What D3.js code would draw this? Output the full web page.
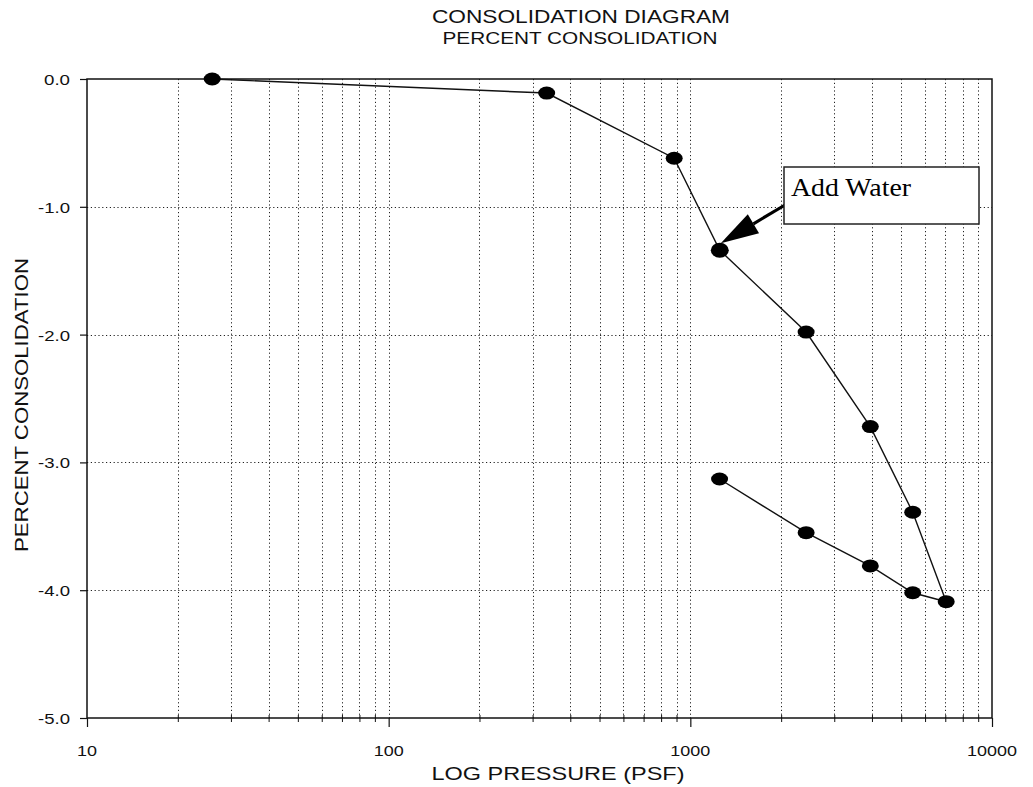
<!DOCTYPE html>
<html>
<head>
<meta charset="utf-8">
<script src="https://cdn.jsdelivr.net/npm/d3@7"></script>
<style>
  html, body { margin: 0; padding: 0; background: #fff; }
  svg { display: block; }
</style>
</head>
<body>
<svg id="chart" width="1033" height="787"></svg>
<script>
// Loading curve: pressure (psf) vs percent consolidation
const loadPressure = [26, 334, 884, 1252, 2420, 3950, 5460, 7050];
const loadConsolidation = [0.0, -0.11, -0.62, -1.34, -1.98, -2.72, -3.39, -4.09];

// Unloading (rebound) curve
const reboundPressure = [7050, 5460, 3950, 2420, 1250];
const reboundConsolidation = [-4.09, -4.02, -3.81, -3.55, -3.13];

// Axis tick values and labels
const xMajorTicks = [10, 100, 1000, 10000];
const xMajorLabels = ["10", "100", "1000", "10000"];
const yTicks = [0, -1, -2, -3, -4, -5];
const yTickLabels = ["0.0", "-1.0", "-2.0", "-3.0", "-4.0", "-5.0"];

// Point where water was added
const waterIndex = 3;
const waterNote = "Add Water";

const svg = d3.select("#chart");
const plotLeft = 87, plotRight = 992, plotTop = 79, plotBottom = 718;

const x = d3.scaleLog().domain([10, 10000]).range([plotLeft, plotRight]);
const y = d3.scaleLinear().domain([-5, 0]).range([plotBottom, plotTop]);

const ink = "#111";
const sans = "Liberation Sans, Arial, sans-serif";

// minor log ticks: 2..9 times each decade
const minorTicks = [];
[10, 100, 1000].forEach(d => { for (let k = 2; k <= 9; k++) minorTicks.push(d * k); });
const gridX = minorTicks.concat([100, 1000]);

// dotted grid
const grid = svg.append("g").attr("stroke", "#222").attr("stroke-width", 1)
  .attr("stroke-dasharray", "1.2,2.6").attr("fill", "none");
grid.selectAll("line.v").data(gridX).join("line")
  .attr("class", "v")
  .attr("x1", d => Math.round(x(d)) + 0.5).attr("x2", d => Math.round(x(d)) + 0.5)
  .attr("y1", plotTop).attr("y2", plotBottom);
grid.selectAll("line.h").data(yTicks.filter(v => v !== 0 && v !== -5)).join("line")
  .attr("class", "h")
  .attr("x1", plotLeft).attr("x2", plotRight)
  .attr("y1", d => Math.round(y(d)) + 0.5).attr("y2", d => Math.round(y(d)) + 0.5);

// axes built from d3 axis generators
const xAxis = d3.axisBottom(x).tickValues(xMajorTicks).tickFormat(() => "").tickSize(9).tickSizeOuter(0);
const gx = svg.append("g").attr("transform", `translate(0,${plotBottom})`).call(xAxis);
gx.select(".domain").remove();
gx.selectAll("line").attr("stroke", ink).attr("stroke-width", 1.2);

const xMinor = d3.axisBottom(x).tickValues(minorTicks).tickFormat(() => "").tickSize(4).tickSizeOuter(0);
const gxm = svg.append("g").attr("transform", `translate(0,${plotBottom})`).call(xMinor);
gxm.select(".domain").remove();
gxm.selectAll("line").attr("stroke", ink).attr("stroke-width", 1).attr("y1", -3);

const yAxis = d3.axisLeft(y).tickValues(yTicks).tickFormat(() => "").tickSize(7).tickSizeOuter(0);
const gy = svg.append("g").attr("transform", `translate(${plotLeft},0)`).call(yAxis);
gy.select(".domain").remove();
gy.selectAll("line").attr("stroke", ink).attr("stroke-width", 1.2);

// plot frame
svg.append("rect").attr("x", plotLeft).attr("y", plotTop)
  .attr("width", plotRight - plotLeft).attr("height", plotBottom - plotTop)
  .attr("fill", "none").attr("stroke", ink).attr("stroke-width", 1.5);

// tick labels
svg.append("g").selectAll("text").data(xMajorTicks).join("text")
  .attr("x", d => x(d)).attr("y", 756)
  .attr("text-anchor", "middle")
  .attr("font-family", sans).attr("font-size", 15).attr("fill", ink)
  .attr("textLength", (d, i) => xMajorLabels[i].length * 10)
  .attr("lengthAdjust", "spacingAndGlyphs")
  .text((d, i) => xMajorLabels[i]);

svg.append("g").selectAll("text").data(yTicks).join("text")
  .attr("x", 70).attr("y", d => y(d) + 6)
  .attr("text-anchor", "end")
  .attr("font-family", sans).attr("font-size", 15).attr("fill", ink)
  .attr("textLength", (d, i) => yTickLabels[i].length === 3 ? 26 : 32)
  .attr("lengthAdjust", "spacingAndGlyphs")
  .text((d, i) => yTickLabels[i]);

// titles
function label(txt, cx, cy, size, len, rot) {
  const t = svg.append("text")
    .attr("x", cx).attr("y", cy)
    .attr("text-anchor", "middle")
    .attr("font-family", sans).attr("font-size", size).attr("fill", ink)
    .attr("textLength", len).attr("lengthAdjust", "spacingAndGlyphs")
    .text(txt);
  if (rot) t.attr("transform", `rotate(${rot},${cx},${cy})`);
  return t;
}
label("CONSOLIDATION DIAGRAM", 581, 22.5, 17.5, 298);
label("PERCENT CONSOLIDATION", 580, 43.5, 16, 275);
label("LOG PRESSURE (PSF)", 558, 780, 18, 253);
label("PERCENT CONSOLIDATION", 28, 405, 19, 294, -90);

// curves
const line = d3.line().x(d => x(d[0])).y(d => y(d[1]));
const loadPts = loadPressure.map((p, i) => [p, loadConsolidation[i]]);
const reboundPts = reboundPressure.map((p, i) => [p, reboundConsolidation[i]]);

svg.append("path").datum(loadPts).attr("d", line)
  .attr("fill", "none").attr("stroke", ink).attr("stroke-width", 1.4);
svg.append("path").datum(reboundPts).attr("d", line)
  .attr("fill", "none").attr("stroke", ink).attr("stroke-width", 1.4);

const markers = svg.append("g").attr("fill", "#000");
markers.selectAll("ellipse.l").data(loadPts).join("ellipse")
  .attr("class", "l")
  .attr("cx", d => x(d[0])).attr("cy", d => y(d[1]))
  .attr("rx", (d, i) => i === waterIndex ? 9 : 8.5)
  .attr("ry", (d, i) => i === waterIndex ? 7.5 : 6.5);
markers.selectAll("ellipse.r").data(reboundPts.slice(1)).join("ellipse")
  .attr("class", "r")
  .attr("cx", d => x(d[0])).attr("cy", d => y(d[1]))
  .attr("rx", 8.5).attr("ry", 6.5);

// "Add Water" callout
const wx = x(loadPressure[waterIndex]), wy = y(loadConsolidation[waterIndex]);
const bx = 784, by = 167, bw = 195, bh = 57;
const tail = [bx + 1, by + 38];
const tip = [wx + 1, wy - 7];
const ang = Math.atan2(tip[1] - tail[1], tip[0] - tail[0]);
const headLen = 38, headHalf = 11;
const base = [tip[0] - headLen * Math.cos(ang), tip[1] - headLen * Math.sin(ang)];
const nx = -Math.sin(ang), ny = Math.cos(ang);

svg.append("line")
  .attr("x1", tail[0]).attr("y1", tail[1]).attr("x2", base[0]).attr("y2", base[1])
  .attr("stroke", "#000").attr("stroke-width", 3.2);
svg.append("polygon")
  .attr("points", [tip, [base[0] + nx * headHalf, base[1] + ny * headHalf],
                   [base[0] - nx * headHalf, base[1] - ny * headHalf]].map(p => p.join(",")).join(" "))
  .attr("fill", "#000");

svg.append("rect").attr("x", bx).attr("y", by).attr("width", bw).attr("height", bh)
  .attr("fill", "#fff").attr("stroke", "#222").attr("stroke-width", 1.5);
svg.append("text").attr("x", 791).attr("y", 196)
  .attr("font-family", "Liberation Serif, 'Times New Roman', serif")
  .attr("font-size", 26).attr("fill", "#000")
  .attr("textLength", 120).attr("lengthAdjust", "spacingAndGlyphs")
  .text(waterNote);
</script>
</body>
</html>
